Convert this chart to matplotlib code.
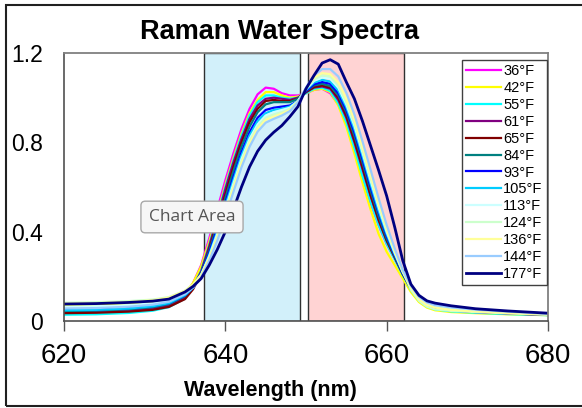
import matplotlib.pyplot as plt
from matplotlib.patches import Rectangle

plt.rcParams['font.family'] = ['Liberation Sans', 'DejaVu Sans']

# -------------------------
# DATA
# -------------------------
wavelength = [620, 624, 628, 631, 633, 635, 636, 637, 638, 639, 640, 641, 642, 643, 644,
              645, 646, 647, 648, 649, 650, 651, 652, 653, 654, 655, 656, 657, 658, 659,
              660, 661, 662, 663, 664, 665, 666, 668, 671, 675, 680]

t36 = [.038, .040, .046, .055, .068, .110, .170, .250, .370, .500, .630, .750, .860, .950, 1.015,
       1.045, 1.040, 1.020, 1.010, 1.010, 1.020, 1.035, 1.040, 1.020, .970, .890, .770, .640, .530, .430,
       .345, .280, .210, .150, .100, .070, .058, .048, .041, .034, .027]
t42 = [.068, .070, .075, .082, .093, .125, .170, .245, .355, .480, .610, .730, .840, .930, .990,
       1.025, 1.025, 1.010, 1.000, 1.005, 1.020, 1.035, 1.040, 1.025, .965, .870, .750, .620, .500, .390,
       .310, .250, .190, .130, .085, .060, .048, .040, .035, .030, .026]
t55 = [.028, .030, .036, .046, .062, .100, .150, .225, .340, .470, .600, .720, .830, .920, .980,
       1.010, 1.010, 1.000, .995, 1.000, 1.020, 1.040, 1.045, 1.030, .975, .890, .775, .650, .535, .430,
       .345, .275, .205, .140, .092, .065, .052, .043, .037, .031, .026]
t61 = [.040, .042, .048, .057, .070, .105, .150, .222, .335, .460, .590, .710, .815, .905, .965,
       .995, 1.000, .995, .990, 1.000, 1.025, 1.045, 1.050, 1.040, .990, .910, .800, .680, .560, .450,
       .360, .285, .210, .145, .095, .068, .056, .047, .040, .034, .027]
t65 = [.035, .037, .042, .050, .063, .098, .142, .212, .320, .445, .565, .690, .800, .890, .950,
       .985, .990, .985, .985, .995, 1.025, 1.048, 1.055, 1.045, 1.000, .920, .810, .690, .565, .455,
       .360, .285, .210, .145, .095, .068, .057, .049, .042, .035, .027]
t84 = [.045, .047, .053, .062, .076, .112, .150, .215, .315, .430, .550, .670, .780, .870, .935,
       .970, .980, .980, .980, .995, 1.030, 1.055, 1.062, 1.052, 1.010, .935, .830, .710, .585, .470,
       .370, .290, .212, .148, .098, .072, .060, .051, .044, .037, .028]
t93 = [.050, .052, .058, .067, .080, .115, .150, .210, .305, .415, .530, .645, .755, .845, .910,
       .945, .955, .960, .965, .985, 1.030, 1.060, 1.070, 1.062, 1.020, .945, .845, .725, .600, .485,
       .380, .295, .215, .150, .100, .075, .063, .054, .046, .039, .029]
t105 = [.048, .050, .056, .066, .080, .116, .150, .205, .295, .400, .515, .630, .740, .830, .895,
        .930, .945, .950, .960, .985, 1.035, 1.068, 1.080, 1.072, 1.032, .958, .860, .740, .615, .495,
        .390, .300, .218, .152, .102, .077, .065, .056, .047, .040, .030]
t113 = [.064, .066, .071, .079, .091, .124, .155, .205, .290, .390, .500, .615, .725, .815, .880,
        .920, .935, .945, .955, .985, 1.038, 1.075, 1.090, 1.085, 1.045, .970, .875, .755, .630, .510,
        .400, .305, .220, .155, .105, .080, .068, .058, .049, .041, .031]
t124 = [.082, .084, .089, .096, .107, .136, .163, .208, .285, .380, .490, .605, .715, .805, .870,
        .910, .925, .935, .950, .985, 1.040, 1.082, 1.100, 1.095, 1.055, .980, .885, .765, .640, .520,
        .405, .310, .222, .140, .090, .064, .052, .045, .040, .034, .028]
t136 = [.078, .080, .085, .093, .105, .135, .162, .205, .280, .372, .480, .595, .705, .795, .860,
        .900, .915, .928, .945, .982, 1.042, 1.090, 1.110, 1.105, 1.068, .995, .900, .780, .655, .530,
        .415, .315, .222, .150, .098, .072, .060, .050, .043, .036, .029]
t144 = [.056, .058, .064, .073, .086, .120, .150, .195, .270, .360, .465, .578, .688, .780, .848,
        .888, .905, .920, .940, .980, 1.045, 1.100, 1.128, 1.128, 1.095, 1.022, .925, .805, .678, .550,
        .430, .325, .228, .158, .108, .083, .071, .061, .051, .042, .032]
t177 = [.076, .078, .083, .089, .098, .130, .155, .190, .250, .320, .400, .500, .600, .690, .760,
        .810, .845, .875, .915, .960, 1.040, 1.100, 1.155, 1.170, 1.150, 1.070, .995, .895, .785, .675,
        .560, .420, .270, .165, .115, .090, .080, .068, .055, .045, .035]

labels = ["36°F", "42°F", "55°F", "61°F", "65°F", "84°F", "93°F",
          "105°F", "113°F", "124°F", "136°F", "144°F", "177°F"]
series = [t36, t42, t55, t61, t65, t84, t93, t105, t113, t124, t136, t144, t177]
colors = ["#FF00FF", "#FFFF00", "#00FFFF", "#800080", "#800000", "#008080", "#0000FF",
          "#00CCFF", "#CCFFFF", "#CCFFCC", "#FFFF99", "#99CCFF", "#000080"]

blue_band = (637.3, 649.2)
pink_band = (650.3, 662.2)

# -------------------------
# PLOT
# -------------------------
fig = plt.figure(figsize=(5.82, 4.08), dpi=100)
ax = fig.add_axes([64 / 582, 87 / 408, 484 / 582, 268 / 408])

ax.axvspan(*blue_band, facecolor="#D2F0FA", edgecolor="#303030", lw=1, zorder=0)
ax.axvspan(*pink_band, facecolor="#FFD3D3", edgecolor="#303030", lw=1, zorder=0)

for lab, y, c in zip(labels, series, colors):
    lw = 2.0 if lab == "177°F" else 1.6
    ax.plot(wavelength, y, color=c, lw=lw, label=lab)

ax.set_xlim(620, 680)
ax.set_ylim(0, 1.2)
ax.set_xticks([620, 640, 660, 680])
ax.set_yticks([0, 0.4, 0.8, 1.2])
ax.set_yticklabels(["0", "0.4", "0.8", "1.2"])
ax.tick_params(axis="x", labelsize=20, length=7, width=1, color="#555555", pad=9)
ax.tick_params(axis="y", labelsize=16.5, length=0, pad=15)

for side in ["top", "right"]:
    ax.spines[side].set_color("#808080")
    ax.spines[side].set_linewidth(1.3)
for side in ["bottom", "left"]:
    ax.spines[side].set_color("#505050")
    ax.spines[side].set_linewidth(1.2)

leg = ax.legend(loc="upper right", bbox_to_anchor=(0.998, 0.975), fontsize=10.5,
                labelspacing=0.2, handlelength=2.4, handletextpad=0.15,
                borderpad=0.3, borderaxespad=0, fancybox=False, framealpha=1)
leg.get_frame().set_edgecolor("#404040")
leg.get_frame().set_linewidth(1)

fig.text(279 / 582, (408 - 39) / 408, "Raman Water Spectra", ha="center", va="baseline",
         fontsize=19.5, fontweight="bold")
fig.text(270 / 582, 12 / 408, "Wavelength (nm)", ha="center", va="baseline",
         fontsize=15.5, fontweight="bold")

# tooltip left over from the screenshot
fig.text(192 / 582, (408 - 217) / 408, "Chart Area", ha="center", va="center",
         fontsize=12.5, color="#555555", family=["Open Sans", "DejaVu Sans"],
         bbox=dict(boxstyle="round,pad=0.45,rounding_size=0.25", facecolor="#F6F6F6",
                   edgecolor="#A8A8A8", lw=1))

# outer chart border
fig.patches.append(Rectangle((6 / 582, 2 / 408), 1.2, 401 / 408, transform=fig.transFigure,
                             fill=False, edgecolor="#202020", lw=1.5))

fig.savefig("out.png", dpi=100)
